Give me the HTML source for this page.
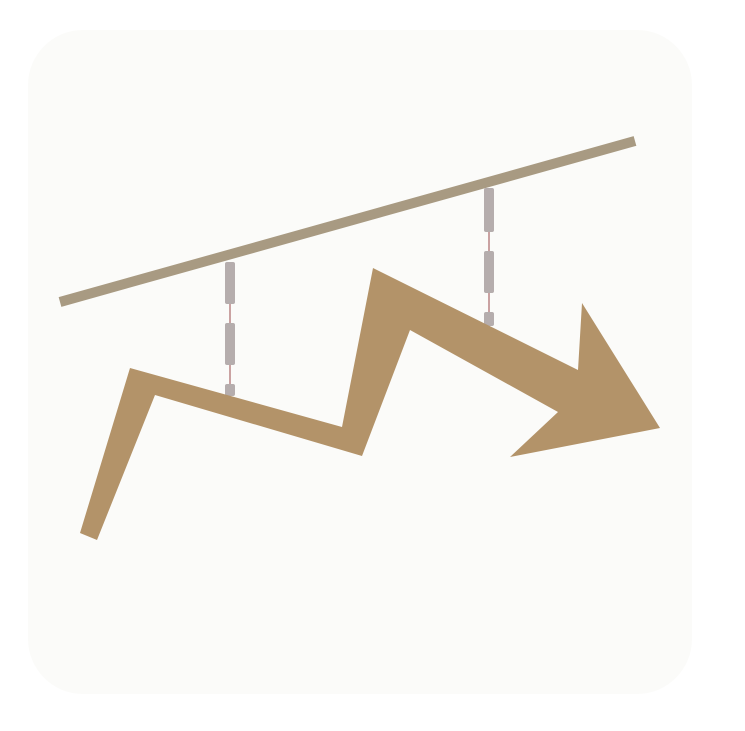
<!DOCTYPE html>
<html>
<head>
<meta charset="utf-8">
<style>
html,body{margin:0;padding:0;background:#ffffff;}
svg{display:block;}
</style>
</head>
<body>
<svg width="745" height="731" viewBox="0 0 745 731" xmlns="http://www.w3.org/2000/svg">
  <rect x="28" y="30" width="664" height="664" rx="55" ry="55" fill="#fbfbf9"/>
  <line x1="60" y1="302" x2="635" y2="141" stroke="#a89a82" stroke-width="10"/>
  <g>
    <line x1="230" y1="262" x2="230" y2="396" stroke="#9a4a4a" stroke-width="1"/>
    <rect x="225" y="262" width="10" height="42" rx="2" fill="#b5adad"/>
    <rect x="225" y="323" width="10" height="42" rx="2" fill="#b5adad"/>
    <rect x="225" y="384" width="10" height="12" rx="2" fill="#b5adad"/>
  </g>
  <g>
    <line x1="489" y1="188" x2="489" y2="325" stroke="#9a4a4a" stroke-width="1"/>
    <rect x="484" y="188" width="10" height="44" rx="2" fill="#b5adad"/>
    <rect x="484" y="251" width="10" height="42" rx="2" fill="#b5adad"/>
    <rect x="484" y="312" width="10" height="14" rx="2" fill="#b5adad"/>
  </g>
  <polygon fill="#b39369"
    points="80,533 130,368 342,427 373,268 578,370 582,303 660,428 510,457 558,412 410,330 362,456 155,395 97,540"/>
</svg>
</body>
</html>
